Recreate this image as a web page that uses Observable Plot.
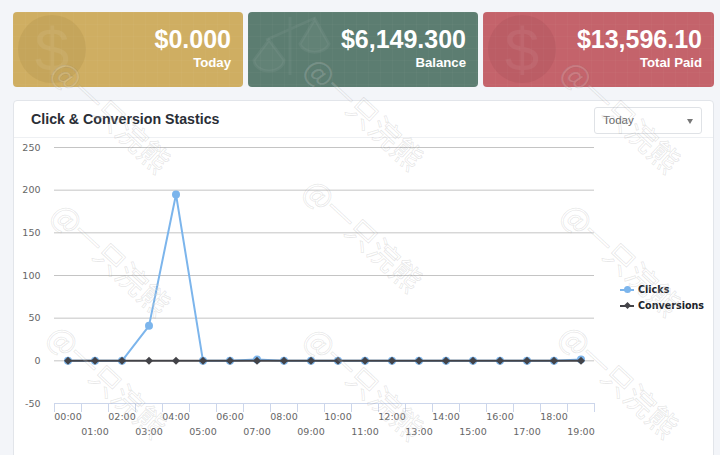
<!DOCTYPE html>
<html><head><meta charset="utf-8">
<script src="https://cdn.jsdelivr.net/npm/d3@7"></script>
<script src="https://cdn.jsdelivr.net/npm/@observablehq/plot@0.6"></script>
<style>
html,body{margin:0;padding:0;width:720px;height:455px;overflow:hidden;background:#f3f5f9;font-family:"Liberation Sans",Arial,sans-serif}
#page{position:relative;width:720px;height:455px;overflow:hidden}
.card{position:absolute;top:12px;height:75px;border-radius:4px;overflow:hidden;color:#fff;text-align:right;
background-size:12px 12px;background-image:linear-gradient(rgba(255,255,255,.025) 1px,transparent 1px),linear-gradient(90deg,rgba(255,255,255,.025) 1px,transparent 1px)}
.card .v{position:absolute;right:12px;top:13px;font-size:25px;line-height:28px;font-weight:700}
.card .l{position:absolute;right:12px;top:43px;font-size:13.2px;line-height:16px;font-weight:700}
.card svg{position:absolute;left:0;top:0}
#panel{position:absolute;left:13px;top:100px;width:699px;height:380px;background:#fff;border:1px solid #e2e5ea;border-radius:4px}
#head{position:absolute;left:0;right:0;top:0;height:36px;border-bottom:1px solid #eef0f3}
#title{position:absolute;left:17px;top:9px;font-size:14.2px;line-height:18px;font-weight:700;color:#2a2e36}
#sel{position:absolute;left:580px;top:6px;width:106px;height:25px;border:1px solid #dfe2e6;border-radius:3px;background:#fff;font-size:11.5px;line-height:25px;color:#666;text-indent:8px}
#sel:after{content:"";position:absolute;right:8px;top:11px;border:3.5px solid transparent;border-top:5px solid #777;border-bottom:0}
#chart{position:absolute;left:0;top:137px}
#chart svg{display:block;background:transparent}
.leg{position:absolute;left:620px;font:bold 9.6px "DejaVu Sans",sans-serif;color:#20232a;line-height:14px;padding-left:18px;white-space:nowrap}
.leg i{position:absolute;left:0;top:6px;width:14px;height:2px}
.leg b{position:absolute;left:3.5px;top:3px;width:7px;height:7px;border-radius:50%}
.leg b.d{left:4.5px;top:4px;width:5px;height:5px;border-radius:0;transform:rotate(45deg)}
#wm{position:absolute;left:0;top:0;pointer-events:none}
</style></head>
<body><div id="page">
<div class="card" style="left:13px;width:230px;background-color:#cfae62"><svg width="120" height="75"><circle cx="39" cy="37" r="34" fill="rgba(120,90,30,.10)"/><text x="39" y="59" text-anchor="middle" font-size="62" font-family="Liberation Sans" fill="rgba(255,255,255,.07)">$</text></svg><div class="v">$0.000</div><div class="l">Today</div></div>
<div class="card" style="left:248px;width:230px;background-color:#5c7d71"><svg width="120" height="75" fill="none" stroke="rgba(255,255,255,.05)" stroke-width="3"><path d="M42 5V63M18 28L67 6"/><path d="M21 28L6 48A15 11 0 0 0 36 48Z" fill="rgba(255,255,255,.04)"/><path d="M67 7L52 32A15 11 0 0 0 81 32Z" fill="rgba(255,255,255,.04)"/></svg><div class="v">$6,149.300</div><div class="l">Balance</div></div>
<div class="card" style="left:483px;width:231px;background-color:#c4636b"><svg width="120" height="75"><circle cx="39" cy="37" r="34" fill="rgba(90,30,40,.08)"/><text x="39" y="59" text-anchor="middle" font-size="62" font-family="Liberation Sans" fill="rgba(255,255,255,.06)">$</text></svg><div class="v">$13,596.10</div><div class="l">Total Paid</div></div>
<div id="panel"><div id="head"><div id="title">Click &amp; Conversion Stastics</div><div id="sel">Today</div></div></div>
<div id="chart"></div>
<div class="leg" style="top:283px"><i style="background:#7cb5ec"></i><b style="background:#7cb5ec"></b>Clicks</div>
<div class="leg" style="top:299px"><i style="background:#434348"></i><b class="d" style="background:#434348"></b>Conversions</div>
<svg id="wm" width="720" height="455"></svg>
</div>
<script>
const hourLabels = ["00:00","01:00","02:00","03:00","04:00","05:00","06:00","07:00","08:00","09:00","10:00","11:00","12:00","13:00","14:00","15:00","16:00","17:00","18:00","19:00"];
const clicks = [0,0,0,41,195,0,0,1.5,0,0,0,0,0,0,0,0,0,0,0,1.5];
const conversions = [0,0,0,0,0,0,0,0,0,0,0,0,0,0,0,0,0,0,0,0];
const yTicks = [250,200,150,100,50,0,-50];
const gridValues = [250,200,150,100,50,0];
const watermarkText = "@一只浣熊";
const watermarkCenters = [[112,115],[365,112],[622,115],[112,258],[364,234],[622,258],[108,380],[365,382],[620,380]];

const idx = hourLabels.map((_, i) => i);
const evens = idx.filter(i => i % 2 === 0);
const odds = idx.filter(i => i % 2 === 1);
const edges = [...idx.map(i => i - 0.5), 19.5];

const chart = Plot.plot({
  width: 720, height: 318,
  marginLeft: 54, marginRight: 126, marginTop: 10, marginBottom: 52,
  style: {background: "transparent", overflow: "visible", fontFamily: "DejaVu Sans", fontSize: "9.5px"},
  x: {type: "linear", domain: [-0.5, 19.5]},
  y: {type: "linear", domain: [-50, 250]},
  marks: [
    Plot.ruleY(gridValues, {stroke: "#c4c4c4", strokeWidth: 1}),
    Plot.ruleY([-50], {stroke: "#ccd6eb", strokeWidth: 1}),
    Plot.axisX(edges, {tickFormat: () => "", tickSize: 9, stroke: "#ccd6eb", strokeOpacity: 1, label: null}),
    Plot.axisX(evens, {tickFormat: i => hourLabels[i], tickSize: 0, tickPadding: 10, label: null, color: "#666", fill: "#666", fontSize: 9.5}),
    Plot.axisX(odds, {tickFormat: i => hourLabels[i], tickSize: 0, tickPadding: 25, label: null, color: "#666", fill: "#666", fontSize: 9.5}),
    Plot.axisY(yTicks, {tickFormat: d => d < 0 ? "-" + (-d) : String(d), tickSize: 0, tickPadding: 14, label: null, color: "#666", fill: "#666", fontSize: 9.5}),
    Plot.line(clicks, {x: (d, i) => i, y: d => d, stroke: "#7cb5ec", strokeWidth: 2, curve: "linear"}),
    Plot.dot(clicks, {x: (d, i) => i, y: d => d, r: 4, fill: "#7cb5ec", stroke: null}),
    Plot.line(conversions, {x: (d, i) => i, y: d => d, stroke: "#434348", strokeWidth: 2, curve: "linear"}),
    Plot.dot(conversions, {x: (d, i) => i, y: d => d, r: 3.6, symbol: "diamond2", fill: "#434348", stroke: null})
  ]
});
document.getElementById("chart").append(chart);

const wm = d3.select("#wm");
for (const [cx, cy] of watermarkCenters) {
  wm.append("text").text(watermarkText)
    .attr("transform", `translate(${cx},${cy}) rotate(43)`)
    .attr("text-anchor", "middle").attr("dominant-baseline", "central")
    .attr("font-family", "Noto Sans CJK SC").attr("font-size", 30)
    .attr("fill", "rgba(255,255,255,.18)").attr("stroke", "rgba(110,110,110,.17)").attr("stroke-width", 0.8);
}
</script>
</body></html>
